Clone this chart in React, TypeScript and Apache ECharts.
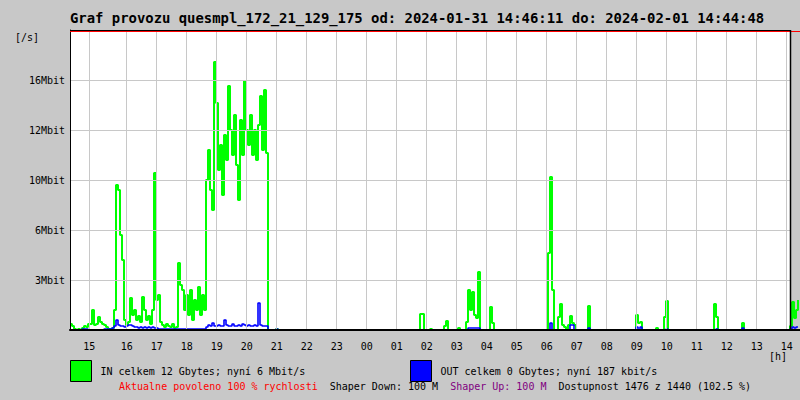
import React, { useEffect, useRef } from "react";
import * as echarts from "echarts";

// ---- texts ----
const TITLE = "Graf provozu quesmpl_172_21_129_175 od: 2024-01-31 14:46:11 do: 2024-02-01 14:44:48";
const IN_NAME = "IN celkem 12 Gbytes; nyní 6 Mbit/s";
const OUT_NAME = "OUT celkem 0 Gbytes; nyní 187 kbit/s";
const STATUS_RED = "Aktualne povoleno 100 % rychlosti";
const STATUS_DOWN = "Shaper Down: 100 M";
const STATUS_UP = "Shaper Up: 100 M";
const STATUS_AVAIL = "Dostupnost 1476 z 1440 (102.5 %)";
const Y_UNIT = "[/s]";
const X_UNIT = "[h]";

// ---- axes ----
const X_MIN = 14.11; // hours (timeline start)
const X_MAX = 38.443; // hours (timeline end incl. overflow)
const HOUR_GRID = [14.753, 16, 17, 18, 19, 20, 21, 22, 23, 24, 25, 26, 27, 28, 29, 30, 31, 32, 33, 34, 35, 36, 37, 38];
const HOUR_LABELS = ["15", "16", "17", "18", "19", "20", "21", "22", "23", "00", "01", "02", "03", "04", "05", "06", "07", "08", "09", "10", "11", "12", "13", "14"];
const Y_MAX = 19.2;
const Y_STEP = 3.2;
const Y_LABELS = ["", "3Mbit", "6Mbit", "10Mbit", "12Mbit", "16Mbit", ""];

// ---- samples: one value every 4 minutes from X_MIN (Mbit/s) ----
const SAMPLE_START = 14.11;
const SAMPLE_STEP_H = 1 / 15;

const IN_MBIT = [
  0.38, 0.26, 0.06, 0, 0.06, 0, 0.13, 0.26, 0.19, 0.38,
  0.38, 1.28, 0.32, 0.38, 0.83, 0.51, 0.38, 0.32, 0.19, 0.06,
  0.06, 0.13, 1.28, 9.28, 8.96, 6.08, 4.48, 0.64, 0.32, 0.51,
  2.05, 0.96, 1.28, 0.64, 0.9, 0.51, 2.11, 1.28, 0.64, 0.9,
  0.38, 1.28, 10.05, 1.92, 2.24, 0.51, 0.32, 0.19, 0.38, 0.26,
  0.19, 0.38, 0.13, 0.19, 4.29, 2.88, 2.56, 1.28, 2.24, 0.96,
  2.56, 0.64, 1.92, 1.28, 2.75, 0.96, 2.24, 1.28, 9.6, 11.52,
  8.96, 7.68, 17.15, 14.53, 10.24, 11.84, 8.64, 12.48, 10.88, 15.62,
  12.8, 11.2, 13.76, 10.56, 8.32, 13.44, 11.2, 15.94, 12.8, 11.84,
  13.76, 11.2, 12.8, 10.88, 13.12, 14.98, 11.52, 15.36, 11.33, 0,
  0, 0, 0, 0.06, 0, 0, 0, 0, 0, 0,
  0, 0, 0, 0, 0, 0, 0, 0, 0, 0,
  0, 0, 0, 0, 0, 0, 0, 0, 0, 0,
  0, 0, 0, 0, 0, 0, 0, 0, 0, 0,
  0, 0, 0, 0, 0, 0, 0, 0, 0, 0,
  0, 0, 0, 0, 0, 0, 0, 0, 0, 0,
  0, 0, 0, 0, 0, 0, 0, 0, 0, 0,
  0, 0, 0, 0, 0, 1.02, 1.02, 0, 0, 0,
  0.06, 0, 0, 0, 0, 0, 0, 0.26, 0.58, 0,
  0, 0, 0, 0, 0.13, 0, 0, 0, 0.51, 2.56,
  1.28, 2.43, 0.96, 0.77, 3.71, 0, 0, 0, 0, 0,
  1.47, 0.45, 0, 0, 0, 0, 0, 0, 0, 0,
  0, 0, 0, 0, 0, 0, 0, 0, 0, 0,
  0, 0, 0, 0, 0, 0, 0, 0, 0, 4.93,
  9.79, 2.56, 0, 0, 0.83, 1.66, 0.32, 0.19, 0, 0.32,
  0.9, 0.45, 0.32, 0, 0, 0, 0, 0, 0, 1.54,
  0, 0, 0, 0, 0, 0, 0, 0, 0, 0,
  0, 0, 0, 0, 0, 0, 0, 0, 0, 0,
  0, 0, 0, 0.96, 0.45, 0.51, 0, 0, 0, 0,
  0, 0, 0, 0.13, 0, 0, 0, 0.83, 1.86, 0,
  0, 0, 0, 0, 0, 0, 0, 0, 0, 0,
  0, 0, 0, 0, 0, 0, 0, 0, 0, 0,
  0, 0, 1.66, 0.83, 0, 0, 0, 0, 0, 0,
  0, 0, 0, 0, 0, 0, 0.45, 0, 0, 0,
  0, 0, 0, 0, 0, 0, 0, 0, 0, 0,
  0, 0, 0, 0, 0, 0, 0, 0, 0, 0,
  0.26, 1.79, 0.77, 1.28, 1.92,
];

const OUT_MBIT = [
  0, 0, 0, 0, 0, 0, 0.06, 0.06, 0.06, 0,
  0, 0, 0, 0, 0, 0, 0, 0.06, 0.06, 0.06,
  0.06, 0.13, 0.26, 0.64, 0.32, 0.26, 0.26, 0.19, 0.26, 0.32,
  0.32, 0.26, 0.19, 0.19, 0.13, 0.19, 0.13, 0.19, 0.13, 0.19,
  0.13, 0.19, 0.13, 0.13, 0.06, 0.06, 0.06, 0.06, 0.06, 0.06,
  0.06, 0.06, 0.06, 0.06, 0.06, 0.06, 0.06, 0.06, 0.06, 0.06,
  0.06, 0.06, 0.06, 0.06, 0.06, 0.06, 0.06, 0.06, 0.19, 0.32,
  0.26, 0.45, 0.26, 0.26, 0.32, 0.26, 0.26, 0.64, 0.32, 0.26,
  0.26, 0.38, 0.26, 0.26, 0.32, 0.26, 0.38, 0.32, 0.26, 0.32,
  0.26, 0.26, 0.32, 0.26, 1.73, 0.32, 0.26, 0.26, 0.26, 0,
  0, 0, 0, 0.06, 0, 0, 0, 0, 0, 0,
  0, 0, 0, 0, 0, 0, 0, 0, 0, 0,
  0, 0, 0, 0, 0, 0, 0, 0, 0, 0,
  0, 0, 0, 0, 0, 0, 0, 0, 0, 0,
  0, 0, 0, 0, 0, 0, 0, 0, 0, 0,
  0, 0, 0, 0, 0, 0, 0, 0, 0, 0,
  0, 0, 0, 0, 0, 0, 0, 0, 0, 0,
  0, 0, 0, 0, 0, 0, 0, 0, 0, 0,
  0, 0, 0, 0, 0, 0, 0, 0, 0, 0,
  0, 0, 0, 0, 0, 0, 0, 0, 0, 0.13,
  0.13, 0.13, 0.13, 0.13, 0.13, 0, 0, 0, 0, 0,
  0, 0, 0, 0, 0, 0, 0, 0, 0, 0,
  0, 0, 0, 0, 0, 0, 0, 0, 0, 0,
  0, 0, 0, 0, 0, 0, 0, 0, 0, 0,
  0.45, 0, 0, 0, 0, 0, 0, 0, 0, 0,
  0.32, 0.32, 0, 0, 0, 0, 0, 0, 0, 0.13,
  0, 0, 0, 0, 0, 0, 0, 0, 0, 0,
  0, 0, 0, 0, 0, 0, 0, 0, 0, 0,
  0, 0, 0, 0.19, 0, 0.19, 0, 0, 0, 0,
  0, 0, 0, 0, 0, 0, 0, 0, 0.06, 0,
  0, 0, 0, 0, 0, 0, 0, 0, 0, 0,
  0, 0, 0, 0, 0, 0, 0, 0, 0, 0,
  0, 0, 0, 0.06, 0, 0, 0, 0, 0, 0,
  0, 0, 0, 0, 0, 0, 0.13, 0, 0, 0,
  0, 0, 0, 0, 0, 0, 0, 0, 0, 0,
  0, 0, 0, 0, 0, 0, 0, 0, 0, 0,
  0.06, 0.19, 0.13, 0.19, 0.19,
];

const MONO = "DejaVu Sans Mono";
const BG = "#c8c8c8";

function toPairs(values: number[]) {
  return values.map((v, i) => [SAMPLE_START + i * SAMPLE_STEP_H, v]);
}

function hourLabel(v: number) {
  let best = 0;
  let bestD = Infinity;
  HOUR_GRID.forEach((h, i) => {
    const d = Math.abs(h - v);
    if (d < bestD) {
      bestD = d;
      best = i;
    }
  });
  return HOUR_LABELS[best];
}

function buildOption(): any {
  const gridLeft = 70;
  const gridTop = 30;
  const gridW = 730;
  const gridH = 300;
  const plotW = 720;
  return {
    animation: false,
    backgroundColor: BG,
    textStyle: { fontFamily: MONO },
    title: [
      {
        text: TITLE,
        left: 70,
        top: 11,
        padding: 0,
        textStyle: { fontFamily: MONO, fontSize: 13.9, fontWeight: "bold", color: "#000" },
      },
      {
        text: Y_UNIT,
        left: 15,
        top: 32,
        padding: 0,
        textStyle: { fontFamily: MONO, fontSize: 10, fontWeight: "normal", color: "#000" },
      },
      {
        text: X_UNIT,
        left: 769,
        top: 351,
        padding: 0,
        textStyle: { fontFamily: MONO, fontSize: 10, fontWeight: "normal", color: "#000" },
      },
      {
        text:
          "{r|" + STATUS_RED + "}  {k|" + STATUS_DOWN + "}  {p|" + STATUS_UP + "}  {k|" + STATUS_AVAIL + "}",
        left: 119,
        top: 381,
        padding: 0,
        textStyle: {
          fontFamily: MONO,
          fontSize: 10,
          fontWeight: "normal",
          color: "#000",
          rich: {
            r: { color: "#ff0000", fontFamily: MONO, fontSize: 10 },
            k: { color: "#000000", fontFamily: MONO, fontSize: 10 },
            p: { color: "#800080", fontFamily: MONO, fontSize: 10 },
          },
        },
      },
    ],
    legend: [
      {
        data: [IN_NAME],
        left: 70,
        top: 360,
        padding: 0,
        icon: "rect",
        itemWidth: 21,
        itemHeight: 21,
        selectedMode: false,
        itemStyle: { borderColor: "#000", borderWidth: 1 },
        textStyle: { fontFamily: MONO, fontSize: 10, color: "#000", padding: [0, 0, 0, 4] },
      },
      {
        data: [OUT_NAME],
        left: 410,
        top: 360,
        padding: 0,
        icon: "rect",
        itemWidth: 21,
        itemHeight: 21,
        selectedMode: false,
        itemStyle: { borderColor: "#000", borderWidth: 1 },
        textStyle: { fontFamily: MONO, fontSize: 10, color: "#000", padding: [0, 0, 0, 4] },
      },
    ],
    grid: { left: gridLeft, top: gridTop, width: gridW, height: gridH, containLabel: false },
    xAxis: {
      type: "value",
      min: X_MIN,
      max: X_MAX,
      z: 6,
      axisLine: { show: true, lineStyle: { color: "#000", width: 2 } },
      axisTick: { show: false, customValues: HOUR_GRID },
      axisLabel: {
        customValues: HOUR_GRID,
        formatter: (v: number) => hourLabel(v),
        color: "#000",
        fontFamily: MONO,
        fontSize: 10,
        margin: 11,
      },
      splitLine: { show: true, lineStyle: { color: BG, width: 1 } },
    },
    yAxis: {
      type: "value",
      min: 0,
      max: Y_MAX,
      interval: Y_STEP,
      z: 6,
      axisLine: { show: true, lineStyle: { color: "#000", width: 1 } },
      axisTick: { show: false },
      axisLabel: {
        formatter: (v: number) => Y_LABELS[Math.round(v / Y_STEP)] ?? "",
        color: "#000",
        fontFamily: MONO,
        fontSize: 10,
        margin: 5,
      },
      splitLine: { show: true, lineStyle: { color: BG, width: 1 } },
    },
    graphic: [
      {
        type: "rect",
        z: -1,
        silent: true,
        shape: { x: gridLeft, y: gridTop, width: plotW, height: gridH },
        style: { fill: "#ffffff" },
      },
      {
        type: "line",
        z: 10,
        silent: true,
        shape: { x1: gridLeft, y1: gridTop + 0.5, x2: gridLeft + plotW, y2: gridTop + 0.5 },
        style: { stroke: "#000", lineWidth: 1 },
      },
      {
        type: "line",
        z: 10,
        silent: true,
        shape: { x1: gridLeft, y1: gridTop + 1.5, x2: 800, y2: gridTop + 1.5 },
        style: { stroke: "#ff0000", lineWidth: 1 },
      },
      {
        type: "line",
        z: 10,
        silent: true,
        shape: { x1: gridLeft + plotW + 0.5, y1: gridTop, x2: gridLeft + plotW + 0.5, y2: gridTop + gridH },
        style: { stroke: "#000", lineWidth: 1.5 },
      },
    ],
    series: [
      {
        type: "line",
        name: IN_NAME,
        data: toPairs(IN_MBIT),
        step: "end",
        symbol: "none",
        color: "#00ff00",
        lineStyle: { color: "#00ff00", width: 2 },
        itemStyle: { color: "#00ff00" },
        clip: false,
        z: 3,
      },
      {
        type: "line",
        name: OUT_NAME,
        data: toPairs(OUT_MBIT),
        step: "end",
        symbol: "none",
        color: "#0000ff",
        lineStyle: { color: "#0000ff", width: 1.6 },
        itemStyle: { color: "#0000ff" },
        clip: false,
        z: 4,
      },
    ],
  };
}

export default function App() {
  const ref = useRef<HTMLDivElement>(null);
  useEffect(() => {
    if (!ref.current) return;
    const chart = echarts.init(ref.current, null, { renderer: "svg" });
    chart.setOption(buildOption());
    return () => chart.dispose();
  }, []);
  return (
    <div
      ref={ref}
      style={{ position: "fixed", left: 0, top: 0, width: 800, height: 400 }}
    />
  );
}
